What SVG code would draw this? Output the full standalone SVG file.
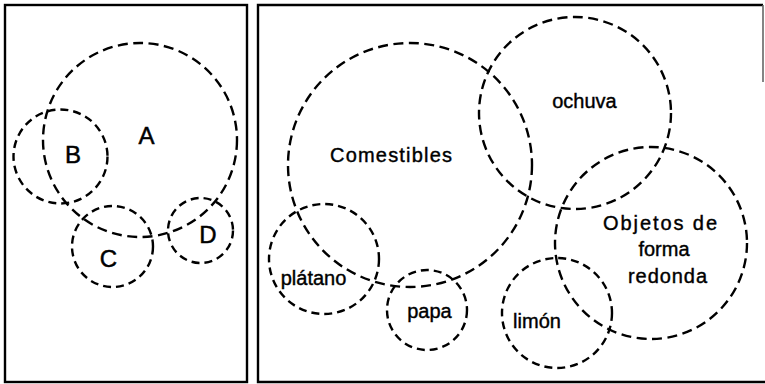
<svg xmlns="http://www.w3.org/2000/svg" width="765" height="384" viewBox="0 0 765 384">
  <style>
    .frame { fill: none; stroke: #000; stroke-width: 2.4; }
    .set { fill: none; stroke: #000; stroke-width: 2.4; stroke-dasharray: 10 5.5; }
    .small { stroke-dasharray: 8 5; }
    .big { font-family: "Liberation Sans", Arial, sans-serif; font-size: 24px; fill: #000; stroke: #000; stroke-width: 0.5; text-anchor: middle; }
    .lbl { font-family: "Liberation Sans", Arial, sans-serif; font-size: 20px; fill: #000; stroke: #000; stroke-width: 0.4; text-anchor: middle; }
  </style>
  <rect width="765" height="384" fill="#fff"/>

  <g id="panel-left">
    <rect class="frame" x="5" y="5" width="242" height="377"/>
  </g>
  <g id="panel-right">
    <path class="frame" d="M763 5 H258 V382 H765"/>
    <path d="M763 5 V82" stroke="#666" stroke-width="1.6" fill="none"/>
  </g>

  <g id="connectors"></g>

  <!-- Left panel -->
  <g id="set-A">
    <circle class="set" cx="140" cy="140" r="97"/>
    <text class="big" x="146.5" y="144">A</text>
  </g>
  <g id="set-B">
    <circle class="set small" cx="60.5" cy="156.5" r="47"/>
    <text class="big" x="73" y="163">B</text>
  </g>
  <g id="set-C">
    <circle class="set small" cx="112.5" cy="246.5" r="40.5"/>
    <text class="big" x="108.5" y="267">C</text>
  </g>
  <g id="set-D">
    <circle class="set small" cx="200.5" cy="230.5" r="32.5"/>
    <text class="big" x="208" y="243">D</text>
  </g>

  <!-- Right panel -->
  <g id="set-comestibles">
    <circle class="set" cx="410" cy="165" r="122"/>
    <text class="lbl" x="391" y="162" textLength="122" lengthAdjust="spacing">Comestibles</text>
  </g>
  <g id="set-ochuva">
    <circle class="set" cx="575" cy="113" r="96"/>
    <text class="lbl" x="584.5" y="108">ochuva</text>
  </g>
  <g id="set-objetos">
    <circle class="set" cx="651" cy="243" r="96"/>
    <text class="lbl" x="660" y="230" textLength="114" lengthAdjust="spacing">Objetos de</text>
    <text class="lbl" x="664" y="256">forma</text>
    <text class="lbl" x="667.5" y="283" textLength="79" lengthAdjust="spacing">redonda</text>
  </g>
  <g id="set-platano">
    <circle class="set small" cx="324" cy="259" r="55"/>
    <text class="lbl" x="313.5" y="285">plátano</text>
  </g>
  <g id="set-papa">
    <circle class="set small" cx="427" cy="310" r="40"/>
    <text class="lbl" x="429.5" y="318">papa</text>
  </g>
  <g id="set-limon">
    <circle class="set small" cx="557" cy="313" r="55"/>
    <text class="lbl" x="537" y="328">limón</text>
  </g>
</svg>
